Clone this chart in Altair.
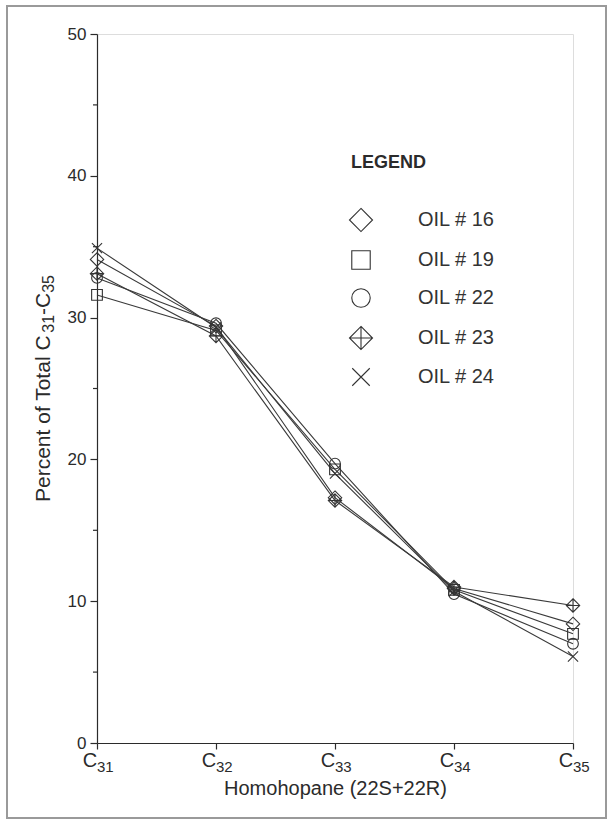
import altair as alt
import pandas as pd

# ---- data ----
categories = ["C31", "C32", "C33", "C34", "C35"]
subscripts = ["31", "32", "33", "34", "35"]
oil_names = ["OIL # 16", "OIL # 19", "OIL # 22", "OIL # 23", "OIL # 24"]
oil16 = [34.1, 29.4, 17.3, 10.9, 8.4]
oil19 = [31.6, 29.1, 19.3, 10.8, 7.7]
oil22 = [32.8, 29.6, 19.7, 10.5, 7.0]
oil23 = [33.1, 28.7, 17.1, 11.0, 9.7]
oil24 = [34.9, 29.3, 19.0, 10.7, 6.1]
y_major = [0, 10, 20, 30, 40, 50]
y_minor = [5, 15, 25, 35, 45]
y_title_parts = ["Percent of Total C", "31", "-C", "35"]

series = [oil16, oil19, oil22, oil23, oil24]
rows = []
for name, vals in zip(oil_names, series):
    for c, v in zip(categories, vals):
        rows.append({"cat": c, "oil": name, "pct": v})
df = pd.DataFrame(rows)
lab_df = pd.DataFrame({"cat": categories, "sub": subscripts})
minor_df = pd.DataFrame({"v": y_minor})
one = pd.DataFrame({"k": [0]})

W, H = 476, 709
FONT = "Liberation Sans"
INK = "#2b2b2b"

shapes = [
    "M0,-1.25L1.25,0L0,1.25L-1.25,0Z",
    "M-1,-1L1,-1L1,1L-1,1Z",
    "circle",
    "M0,-1.25L1.25,0L0,1.25L-1.25,0Z M0,-1.25L0,1.25 M-1.25,0L1.25,0",
    "M-0.95,-0.95L0.95,0.95M-0.95,0.95L0.95,-0.95",
]

xs = alt.Scale(domain=categories, type="point", padding=0)
x_enc = alt.X(
    "cat:O",
    scale=xs,
    axis=alt.Axis(
        labels=False, ticks=True, tickSize=6, tickColor=INK, domainColor=INK,
        domainWidth=1.2, tickWidth=1.2, title="Homohopane (22S+22R)",
        titleFont=FONT, titleFontSize=20, titleFontWeight="normal",
        titleColor=INK, titlePadding=29, grid=False,
    ),
)
y_scale = alt.Scale(domain=[0, 50], nice=False)
y_enc = alt.Y(
    "pct:Q",
    scale=y_scale,
    axis=alt.Axis(
        values=y_major, tickSize=7, tickColor=INK, domainColor=INK,
        domainWidth=1.2, tickWidth=1.2, labelFont=FONT, labelFontSize=17,
        labelColor=INK, labelPadding=4, grid=False, title=None,
    ),
)

lines = alt.Chart(df).mark_line(color="#3a3a3a", strokeWidth=1.1).encode(
    x=x_enc, y=y_enc, detail="oil:N"
)

points = alt.Chart(df).mark_point(
    filled=False, color="#333333", strokeWidth=1.1, size=115, opacity=1
).encode(
    x=alt.X("cat:O", scale=xs),
    y=alt.Y("pct:Q", scale=y_scale),
    shape=alt.Shape(
        "oil:N",
        scale=alt.Scale(domain=oil_names, range=shapes),
        legend=alt.Legend(
            title="LEGEND", orient="none", legendX=254, legendY=120,
            titleFont=FONT, titleFontSize=18, titleFontWeight="bold",
            titleColor=INK, titlePadding=38, titleAlign="left",
            labelFont=FONT, labelFontSize=20, labelColor="#333333",
            labelOffset=47, rowPadding=14, symbolSize=340,
            symbolStrokeColor="#333333", symbolFillColor="transparent",
            symbolStrokeWidth=1.1,
        ),
    ),
)

minor = alt.Chart(minor_df).mark_rule(color=INK, strokeWidth=1.2).encode(
    y=alt.Y("v:Q", scale=y_scale), x=alt.value(-4), x2=alt.value(0)
)

c_text = alt.Chart(lab_df).mark_text(
    font=FONT, fontSize=20, color=INK, align="center", baseline="alphabetic", dx=-7
).encode(
    x=alt.X("cat:O", scale=xs), y=alt.value(H + 24), text=alt.value("C"),
)
sub_text = alt.Chart(lab_df).mark_text(
    font=FONT, fontSize=15, color=INK, align="left", baseline="alphabetic", dx=0
).encode(
    x=alt.X("cat:O", scale=xs), y=alt.value(H + 29), text="sub:N",
)

# y-axis title built from pieces so that the subscripts are real subscripts
BIG, SMALL = 21, 16
w_main = 8.059 * BIG
w_sub = 1.112 * SMALL
w_dash = 1.055 * BIG
total = w_main + w_sub + w_dash + w_sub
start = H / 2 + total / 2
piece_pos = [start, start - w_main, start - w_main - w_sub, start - w_main - w_sub - w_dash]
piece_x = [-47, -43, -47, -43]
piece_size = [BIG, SMALL, BIG, SMALL]
title_layers = []
for txt, py, px, fs in zip(y_title_parts, piece_pos, piece_x, piece_size):
    title_layers.append(
        alt.Chart(one).mark_text(
            font=FONT, fontSize=fs, color=INK, angle=270, align="left",
            baseline="alphabetic",
        ).encode(x=alt.value(px), y=alt.value(py), text=alt.value(txt))
    )

frame = alt.Chart(one).mark_rect(
    fill="transparent", stroke="#9a9a9a", strokeWidth=2
).encode(
    x=alt.value(-90), x2=alt.value(509), y=alt.value(-28), y2=alt.value(784)
)

chart = alt.layer(frame, minor, lines, points, c_text, sub_text, *title_layers).properties(
    width=W, height=H,
    autosize=alt.AutoSizeParams(type="none"),
    padding={"left": 97, "top": 34, "right": 38, "bottom": 80},
).configure_view(stroke=None).configure(background="white")

chart.save("out.html", embed_options={"renderer": "svg", "actions": False})
